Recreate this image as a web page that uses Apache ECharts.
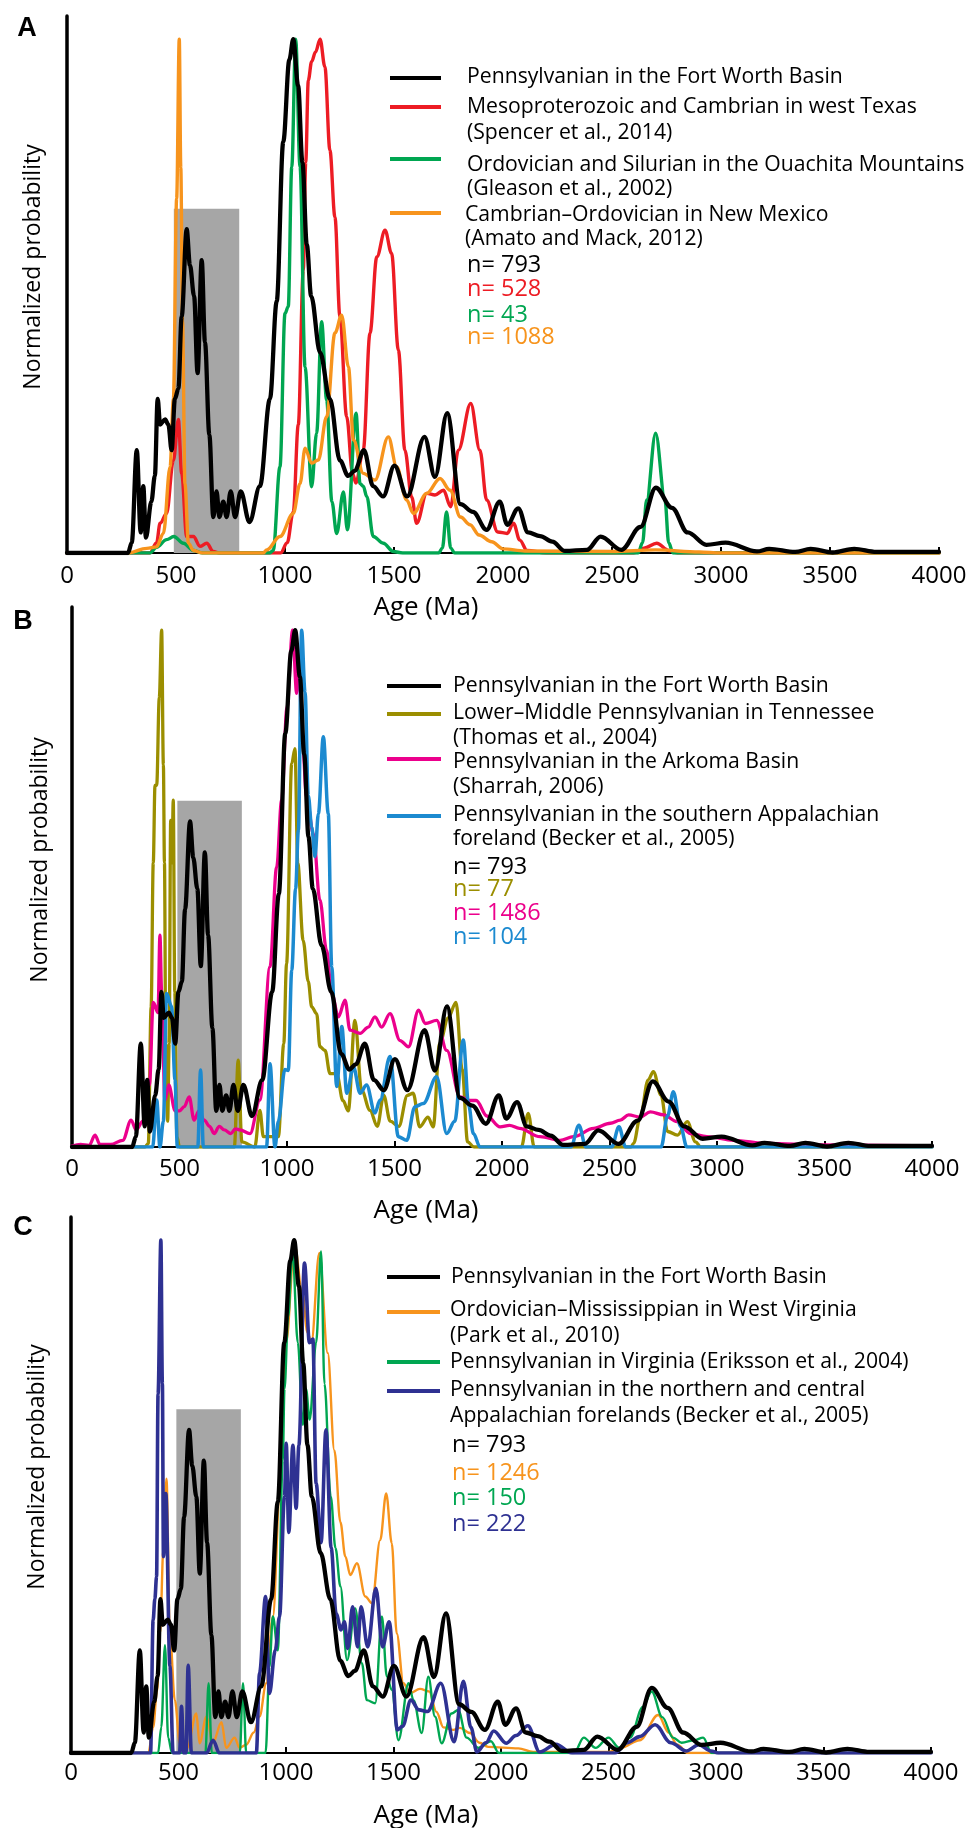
<!DOCTYPE html>
<html><head><meta charset="utf-8">
<script src="https://cdn.jsdelivr.net/npm/echarts@6/dist/echarts.min.js"></script>
<style>html,body{margin:0;padding:0;background:#fff}#c{width:973px;height:1828px}</style>
</head><body><div id="c"></div>
<script>
// ---------- axis / categories ----------
const xMin = 0, xMax = 4000, xStep = 500;
const yMax = 1.045;
const grayBand = [490, 790];
const grayTop = 0.67;
const panelLetters = ['A', 'B', 'C'];
const yAxisTitle = 'Normalized probability';
const xAxisTitle = 'Age (Ma)';

// ---------- series values  [age (Ma), normalized probability] ----------
const fortWorth = [[0,0],[280,0],[297,0.02],[320,0.2],[338,0.04],[350,0.13],[362,0.03],[387,0.10],[403,0.15],[416,0.30],[427,0.25],[450,0.26],[465,0.25],[480,0.20],[495,0.30],[511,0.32],[526,0.46],[549,0.63],[564,0.56],[583,0.50],[599,0.35],[618,0.57],[633,0.41],[653,0.23],[671,0.07],[686,0.12],[699,0.07],[717,0.10],[732,0.07],[751,0.12],[771,0.07],[797,0.12],[837,0.06],[885,0.13],[931,0.30],[962,0.49],[992,0.80],[1020,0.96],[1038,1.0],[1060,0.91],[1080,0.76],[1100,0.60],[1120,0.50],[1161,0.39],[1206,0.30],[1252,0.18],[1290,0.15],[1320,0.16],[1362,0.20],[1404,0.13],[1450,0.11],[1502,0.17],[1560,0.11],[1640,0.226],[1688,0.148],[1744,0.272],[1805,0.095],[1862,0.08],[1925,0.045],[1985,0.1],[2020,0.055],[2070,0.087],[2115,0.04],[2170,0.033],[2226,0.022],[2284,0.004],[2385,0.006],[2448,0.032],[2543,0.006],[2631,0.051],[2701,0.127],[2775,0.088],[2847,0.04],[2933,0.016],[3021,0.02],[3165,0.003],[3221,0.008],[3340,0.002],[3411,0.008],[3512,0.001],[3611,0.008],[3713,0.002],[4000,0.002]];

const westTexas = [[0,0],[380,0],[411,0.02],[427,0.058],[457,0.077],[488,0.18],[511,0.26],[526,0.155],[549,0.032],[580,0.032],[610,0.013],[641,0.019],[671,0.003],[700,0],[980,0],[1010,0.02],[1038,0.08],[1061,0.25],[1084,0.55],[1095,0.76],[1107,0.92],[1122,0.956],[1140,0.975],[1161,1.0],[1183,0.946],[1206,0.784],[1229,0.654],[1252,0.46],[1283,0.265],[1310,0.155],[1325,0.136],[1359,0.2],[1390,0.428],[1421,0.576],[1459,0.628],[1489,0.583],[1520,0.395],[1550,0.2],[1581,0.109],[1604,0.058],[1650,0.116],[1688,0.113],[1727,0.122],[1760,0.09],[1795,0.2],[1852,0.291],[1894,0.2],[1925,0.103],[1976,0.041],[2019,0.038],[2048,0.058],[2077,0.025],[2110,0.005],[2200,0],[2600,0],[2650,0.01],[2705,0.019],[2760,0.005],[2800,0],[4000,0]];

const ouachita = [[0,0],[380,0],[411,0.011],[457,0.026],[490,0.032],[534,0.019],[580,0.005],[620,0],[930,0],[946,0.005],[977,0.168],[1000,0.466],[1015,0.48],[1031,0.751],[1049,1.0],[1069,0.751],[1092,0.362],[1122,0.129],[1145,0.233],[1168,0.45],[1191,0.298],[1215,0.1],[1237,0.038],[1268,0.119],[1286,0.045],[1326,0.272],[1344,0.135],[1359,0.13],[1375,0.11],[1405,0.032],[1451,0.019],[1497,0.003],[1540,0],[1705,0],[1722,0.01],[1741,0.08],[1760,0.01],[1778,0],[2620,0],[2640,0.02],[2659,0.103],[2700,0.233],[2743,0.103],[2760,0.02],[2780,0],[4000,0]];

const newMexico = [[0,0],[280,0],[366,0.009],[411,0.012],[442,0.038],[473,0.168],[488,0.3],[503,0.69],[515,1.0],[522,0.75],[530,0.45],[541,0.135],[557,0.019],[580,0.005],[620,0],[900,0],[916,0.006],[977,0.032],[1038,0.077],[1069,0.135],[1092,0.204],[1122,0.175],[1153,0.181],[1191,0.265],[1229,0.428],[1260,0.463],[1291,0.362],[1314,0.22],[1359,0.155],[1413,0.142],[1474,0.226],[1512,0.168],[1558,0.103],[1589,0.077],[1650,0.116],[1711,0.145],[1757,0.122],[1805,0.07],[1849,0.055],[1890,0.035],[1948,0.022],[2000,0.008],[2100,0.004],[2500,0.003],[2700,0.006],[2900,0.002],[3000,0],[4000,0]];

const tennessee = [[0,0],[340,0],[355,0.007],[368,0.27],[378,0.55],[386,0.7],[394,0.7],[406,0.87],[417,1.0],[425,0.74],[430,0.55],[436,0.2],[445,0.05],[452,0.2],[459,0.632],[465,0.55],[471,0.671],[478,0.3],[488,0.02],[500,0],[755,0],[773,0.168],[790,0.01],[850,0],[874,0.071],[890,0.02],[960,0.02],[985,0.2],[998,0.355],[1022,0.742],[1037,0.771],[1050,0.55],[1075,0.40],[1099,0.32],[1115,0.271],[1138,0.258],[1153,0.194],[1177,0.187],[1200,0.142],[1231,0.142],[1260,0.09],[1285,0.07],[1316,0.245],[1347,0.11],[1386,0.071],[1420,0.04],[1450,0.1],[1480,0.05],[1520,0.04],[1560,0.1],[1587,0.104],[1617,0.039],[1656,0.058],[1680,0.039],[1710,0.2],[1750,0.25],[1786,0.28],[1815,0.15],[1840,0.01],[1870,0],[2090,0],[2122,0.065],[2150,0],[2600,0],[2612,0.007],[2643,0.058],[2680,0.13],[2704,0.146],[2740,0.1],[2770,0.03],[2816,0.023],[2862,0.049],[2900,0.01],[2925,0],[4000,0]];

const arkoma = [[0,0.002],[40,0.005],[80,0.003],[107,0.023],[130,0.005],[180,0.005],[236,0.013],[275,0.052],[298,0.033],[330,0.05],[360,0.12],[378,0.28],[400,0.26],[409,0.41],[417,0.3],[432,0.09],[450,0.12],[480,0.07],[500,0.07],[522,0.078],[545,0.097],[568,0.052],[590,0.07],[615,0.052],[640,0.04],[661,0.026],[685,0.04],[708,0.033],[739,0.026],[760,0.035],[781,0.033],[828,0.026],[874,0.091],[921,0.349],[952,0.542],[975,0.671],[1000,0.85],[1026,1.0],[1045,0.878],[1055,0.95],[1070,0.8],[1091,0.678],[1122,0.607],[1153,0.478],[1184,0.381],[1208,0.297],[1239,0.252],[1270,0.284],[1293,0.226],[1340,0.22],[1378,0.232],[1409,0.252],[1440,0.232],[1479,0.258],[1526,0.206],[1565,0.194],[1612,0.265],[1643,0.239],[1696,0.245],[1743,0.187],[1805,0.097],[1850,0.09],[1880,0.09],[1930,0.06],[1991,0.039],[2035,0.042],[2081,0.036],[2177,0.02],[2270,0.013],[2333,0.02],[2426,0.036],[2504,0.046],[2550,0.052],[2589,0.062],[2643,0.058],[2690,0.068],[2752,0.062],[2814,0.049],[2876,0.026],[2953,0.02],[3078,0.013],[3233,0.007],[3481,0.004],[4000,0.002]];

const southernApp = [[0,0],[375,0],[394,0.091],[409,0],[425,0.05],[440,0.297],[463,0.272],[479,0.13],[490,0],[585,0],[598,0.149],[611,0],[905,0],[921,0.161],[944,0],[960,0.05],[990,0.15],[1006,0.148],[1022,0.342],[1040,0.5],[1053,0.613],[1068,1.0],[1084,0.88],[1099,0.68],[1115,0.619],[1130,0.562],[1146,0.645],[1169,0.794],[1192,0.645],[1208,0.349],[1231,0.117],[1255,0.233],[1278,0.104],[1309,0.155],[1340,0.104],[1370,0.12],[1409,0.066],[1433,0.091],[1479,0.175],[1518,0.02],[1557,0.013],[1595,0.078],[1634,0.084],[1696,0.136],[1743,0.026],[1780,0.05],[1820,0.207],[1845,0.08],[1867,0.026],[1898,0],[2320,0],[2358,0.042],[2390,0],[2510,0],[2544,0.039],[2575,0],[2740,0],[2770,0.06],[2797,0.107],[2830,0.04],[2860,0],[4000,0]];

const westVirginia = [[0,0],[360,0],[382,0.05],[400,0.12],[414,0.233],[430,0.4],[444,0.535],[460,0.233],[483,0.103],[506,0.019],[540,0.01],[583,0.077],[598,0.019],[630,0.071],[660,0.02],[700,0.06],[722,0.01],[761,0.03],[784,0.01],[815,0.016],[850,0.04],[877,0.071],[908,0.136],[939,0.266],[970,0.493],[1000,0.8],[1040,0.99],[1075,0.9],[1100,0.82],[1118,0.8],[1155,0.975],[1194,0.78],[1225,0.59],[1253,0.45],[1276,0.383],[1299,0.347],[1330,0.37],[1369,0.305],[1400,0.292],[1438,0.415],[1466,0.506],[1492,0.409],[1515,0.233],[1546,0.136],[1577,0.117],[1623,0.125],[1666,0.12],[1700,0.08],[1732,0.05],[1778,0.045],[1809,0.049],[1856,0.039],[1900,0.02],[1940,0.012],[2081,0.009],[2150,0.002],[2500,0.002],[2557,0.01],[2645,0.025],[2731,0.074],[2780,0.04],[2820,0.016],[2870,0],[4000,0]];

const virginia = [[0,0],[405,0],[420,0.05],[437,0.21],[452,0.03],[470,0],[625,0],[640,0.136],[655,0],[785,0],[800,0.136],[815,0],[905,0],[923,0.168],[939,0.266],[962,0.2],[985,0.57],[993,0.71],[1010,0.85],[1030,0.98],[1055,0.8],[1078,0.64],[1093,0.71],[1110,0.65],[1140,0.8],[1163,0.978],[1179,0.72],[1208,0.5],[1230,0.4],[1253,0.325],[1284,0.181],[1322,0.282],[1353,0.175],[1376,0.103],[1415,0.097],[1446,0.266],[1469,0.149],[1492,0.123],[1523,0.025],[1570,0.136],[1593,0.103],[1631,0.039],[1662,0.149],[1693,0.071],[1724,0.019],[1770,0.077],[1801,0.084],[1840,0.03],[1895,0.01],[1953,0.023],[1990,0],[2340,0],[2385,0.03],[2440,0.01],[2500,0.03],[2550,0.01],[2600,0.03],[2660,0.09],[2701,0.12],[2750,0.07],[2800,0.03],[2840,0.02],[2900,0.025],[2940,0.03],[2980,0],[4000,0]];

const northernApp = [[0,0],[370,0],[382,0.259],[390,0.3],[398,0.344],[405,0.7],[418,1.0],[425,0.72],[430,0.383],[441,0.506],[460,0.17],[475,0],[505,0],[514,0.091],[524,0],[535,0],[545,0.171],[560,0],[630,0],[661,0.025],[690,0],[862,0],[877,0.156],[905,0.305],[923,0.116],[950,0.2],[970,0.266],[993,0.5],[1001,0.604],[1013,0.43],[1032,0.6],[1047,0.477],[1060,0.6],[1086,0.955],[1109,0.8],[1125,0.807],[1140,0.526],[1163,0.41],[1186,0.63],[1210,0.4],[1233,0.272],[1256,0.24],[1272,0.256],[1287,0.204],[1310,0.285],[1333,0.207],[1349,0.285],[1380,0.207],[1418,0.321],[1449,0.207],[1480,0.256],[1518,0.045],[1542,0.052],[1581,0.103],[1619,0.084],[1658,0.081],[1720,0.136],[1782,0.022],[1825,0.14],[1860,0.05],[1888,0.002],[1930,0.02],[1966,0.043],[2024,0.019],[2070,0.034],[2125,0.053],[2180,0.002],[2255,0.017],[2330,0],[2530,0],[2587,0.02],[2645,0.032],[2717,0.055],[2790,0.02],[2862,0.004],[2920,0.016],[2977,0.004],[3010,0],[4000,0]];

// ---------- legend labels ----------
const legendA = [['Pennsylvanian in the Fort Worth Basin'],['Mesoproterozoic and Cambrian in west Texas','(Spencer et al., 2014)'],['Ordovician and Silurian in the Ouachita Mountains','(Gleason et al., 2002)'],['Cambrian\u2013Ordovician in New Mexico','(Amato and Mack, 2012)']];
const countsA = ['n= 793','n= 528','n= 43','n= 1088'];
const legendB = [['Pennsylvanian in the Fort Worth Basin'],['Lower\u2013Middle Pennsylvanian in Tennessee','(Thomas et al., 2004)'],['Pennsylvanian in the Arkoma Basin','(Sharrah, 2006)'],['Pennsylvanian in the southern Appalachian','foreland (Becker et al., 2005)']];
const countsB = ['n= 793','n= 77','n= 1486','n= 104'];
const legendC = [['Pennsylvanian in the Fort Worth Basin'],['Ordovician\u2013Mississippian in West Virginia','(Park et al., 2010)'],['Pennsylvanian in Virginia (Eriksson et al., 2004)'],['Pennsylvanian in the northern and central','Appalachian forelands (Becker et al., 2005)']];
const countsC = ['n= 793','n= 1246','n= 150','n= 222'];

// ---------- styling / layout (not data) ----------
const C = {black:'#000000', red:'#ed1c24', green:'#00a651', orange:'#f7941d', olive:'#9b8e00', pink:'#ec008c', blue:'#1c8ad0', navy:'#2e3192', gray:'#a6a6a6'};
const FONT = '"Open Sans", "Noto Sans", sans-serif';
const grids = [
  {left:67, top:16, width:872, height:537},
  {left:72, top:607, width:860, height:540},
  {left:71, top:1217, width:860, height:536}
];
const labelMargin = [11, 10, 8];

const chart = echarts.init(document.getElementById('c'), null, {renderer:'canvas'});

const xAxes = grids.map((g, i) => ({
  type:'value', gridIndex:i, min:xMin, max:xMax, interval:xStep,
  axisLine:{show:true, onZero:false, lineStyle:{color:'#000', width:2}},
  axisTick:{show:true, inside:true, length:6, lineStyle:{color:'#000', width:2}},
  axisLabel:{show:true, color:'#000', fontSize:24, fontFamily:FONT, margin:labelMargin[i],
    formatter:(v) => String(v)},
  splitLine:{show:false}
}));
const yAxes = grids.map((g, i) => ({
  type:'value', gridIndex:i, min:0, max:yMax,
  axisLine:{show:true, lineStyle:{color:'#000', width:3.5}},
  axisTick:{show:false}, axisLabel:{show:false}, splitLine:{show:false}
}));

function line(name, data, color, width, gi, z) {
  return {name, type:'line', xAxisIndex:gi, yAxisIndex:gi, data, showSymbol:false, symbol:'none',
    smooth:0.35, smoothMonotone:'x', clip:true, z,
    lineStyle:{color, width, join:'round', cap:'round'}, emphasis:{disabled:true}, silent:true};
}
function band(gi) {
  return {type:'line', xAxisIndex:gi, yAxisIndex:gi, data:[], z:1, silent:true,
    markArea:{silent:true, itemStyle:{color:C.gray, opacity:1},
      data:[[{xAxis:grayBand[0], yAxis:0},{xAxis:grayBand[1], yAxis:grayTop}]]}};
}

const series = [
  band(0),
  line(legendA[1][0], westTexas, C.red, 3.4, 0, 3),
  line(legendA[2][0], ouachita, C.green, 3.4, 0, 4),
  line(legendA[3][0], newMexico, C.orange, 3.4, 0, 5),
  line(legendA[0][0]+' A', fortWorth, C.black, 4.3, 0, 6),
  band(1),
  line(legendB[1][0], tennessee, C.olive, 3.3, 1, 3),
  line(legendB[2][0], arkoma, C.pink, 3.3, 1, 4),
  line(legendB[3][0], southernApp, C.blue, 3.5, 1, 5),
  line(legendB[0][0]+' B', fortWorth, C.black, 4.3, 1, 6),
  band(2),
  line(legendC[1][0], westVirginia, C.orange, 2.4, 2, 3),
  line(legendC[2][0], virginia, C.green, 2.4, 2, 4),
  line(legendC[3][0], northernApp, C.navy, 3.6, 2, 5),
  line(legendC[0][0]+' C', fortWorth, C.black, 4.3, 2, 6)
];

// ---------- graphic: legends, titles ----------
const graphic = [];
function txt(x, y, text, size, color, opts) {
  graphic.push(Object.assign({type:'text', x, y, silent:true, z:100,
    style:{text, fill:color, font:(opts&&opts.bold?'bold ':'')+size+'px '+((opts&&opts.family)||FONT),
      textAlign:(opts&&opts.align)||'left', textVerticalAlign:'middle', align:(opts&&opts.align)||'left', verticalAlign:'middle'}},
    (opts&&opts.rotation!==undefined)?{rotation:opts.rotation}:{}));
}
function seg(x1, x2, y, color) {
  graphic.push({type:'line', silent:true, z:100, shape:{x1, y1:y, x2, y2:y}, style:{stroke:color, lineWidth:4}});
}
function legend(spec) {
  spec.lines.forEach((ly, k) => seg(spec.lx1, spec.lx2, ly, spec.colors[k]));
  spec.labels.forEach((lab, k) => lab.forEach((t, j) => txt(spec.tx[k], spec.ty[k][j], t, 21.2, '#000')));
  spec.counts.forEach((t, k) => txt(spec.nx, spec.ny[k], t, 23.5, spec.colors[k]));
}
legend({lx1:390, lx2:441, lines:[78,107,159,213], colors:[C.black,C.red,C.green,C.orange],
  labels:legendA, tx:[467,467,467,465], ty:[[77],[107,133],[165,189],[215,239]],
  counts:countsA, nx:467, ny:[265,289,315,337]});
legend({lx1:387, lx2:441, lines:[686,714,759,816], colors:[C.black,C.olive,C.pink,C.blue],
  labels:legendB, tx:[453,453,453,453], ty:[[686],[713,738],[762,787],[815,839]],
  counts:countsB, nx:453, ny:[867,889,913,937]});
legend({lx1:387, lx2:440, lines:[1277,1312,1362,1391], colors:[C.black,C.orange,C.green,C.navy],
  labels:legendC, tx:[451,450,450,450], ty:[[1277],[1310,1336],[1362],[1390,1416]],
  counts:countsC, nx:452, ny:[1445,1473,1498,1524]});

// panel letters
txt(27, 29, panelLetters[0], 27, '#000', {bold:true, align:'center', family:'"Liberation Sans", Arial, sans-serif'});
txt(23, 622, panelLetters[1], 27, '#000', {bold:true, align:'center', family:'"Liberation Sans", Arial, sans-serif'});
txt(23, 1228, panelLetters[2], 27, '#000', {bold:true, align:'center', family:'"Liberation Sans", Arial, sans-serif'});
// y titles
txt(33, 267, yAxisTitle, 23, '#000', {align:'center', rotation:Math.PI/2});
txt(40, 860, yAxisTitle, 23, '#000', {align:'center', rotation:Math.PI/2});
txt(37, 1467, yAxisTitle, 23, '#000', {align:'center', rotation:Math.PI/2});
// x titles
txt(426, 608, xAxisTitle, 26, '#000', {align:'center'});
txt(426, 1211, xAxisTitle, 26, '#000', {align:'center'});
txt(426, 1816, xAxisTitle, 26, '#000', {align:'center'});

chart.setOption({
  animation:false, backgroundColor:'#fff',
  grid: grids.map(g => Object.assign({containLabel:false}, g)),
  xAxis:xAxes, yAxis:yAxes, series, graphic
});
</script></body></html>
